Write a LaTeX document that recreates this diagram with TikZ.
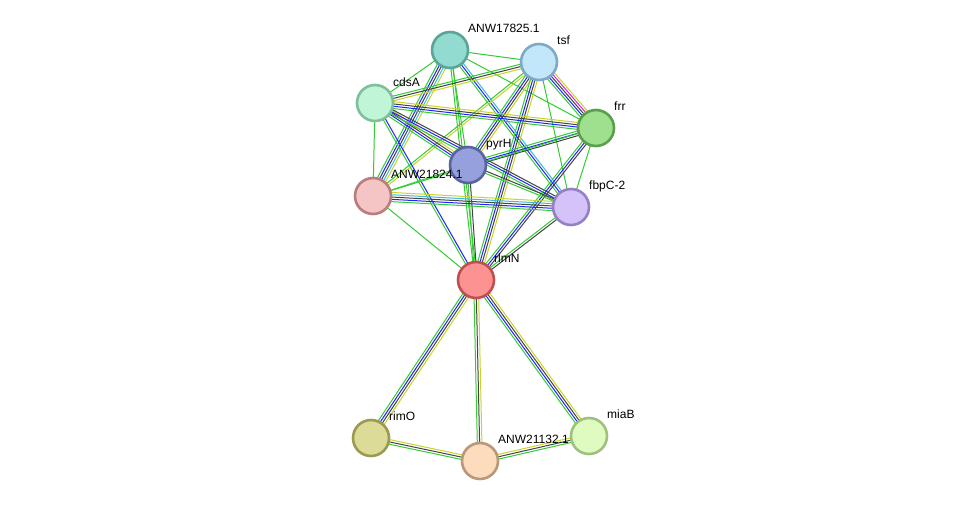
\documentclass[tikz,border=0pt]{standalone}
\usepackage{fontspec}
\setmainfont{Liberation Sans}
\usetikzlibrary{backgrounds}
\definecolor{eg}{HTML}{33CC33}
\definecolor{eb}{HTML}{2222FF}
\definecolor{ek}{HTML}{444444}
\definecolor{ey}{HTML}{C8D42A}
\definecolor{ec}{HTML}{3CB8E6}
\definecolor{em}{HTML}{D822D8}
\tikzset{
  prot/.style={circle, minimum size=36pt, inner sep=0pt, line width=2.6pt},
  lbl/.style={anchor=base west, inner sep=0pt, font=\fontsize{12}{14}\selectfont},
  edgeline/.style={line width=1.0pt},
}
\newcommand\medge[3]{%
  \pgfmathanglebetweenpoints{\pgfpointanchor{#1}{center}}{\pgfpointanchor{#2}{center}}%
  \let\eang\pgfmathresult
  \foreach \c [count=\i] in {#3} {\xdef\ncount{\i}}%
  \foreach \c [count=\i] in {#3} {%
    \pgfmathsetmacro\off{(\i-(\ncount+1)/2)*2.3}%
    \draw[\c, edgeline] ([shift={(\eang+90:\off pt)}]#1.center) -- ([shift={(\eang+90:\off pt)}]#2.center);
  }%
}
\begin{document}
\begin{tikzpicture}[x=1pt,y=-1pt]
\useasboundingbox (0,0) rectangle (976,506);
% nodes
\node[prot, draw={rgb,255:red,90;green,165;blue,150}, fill={rgb,255:red,146;green,219;blue,208}] (A) at (450,50) {};
\node[prot, draw={rgb,255:red,126;green,170;blue,197}, fill={rgb,255:red,194;green,230;blue,250}] (T) at (539,62) {};
\node[prot, draw={rgb,255:red,127;green,191;blue,154}, fill={rgb,255:red,192;green,245;blue,216}] (C) at (375,103) {};
\node[prot, draw={rgb,255:red,90;green,158;blue,78}, fill={rgb,255:red,158;green,224;blue,142}] (F) at (596,128) {};
\node[prot, draw={rgb,255:red,88;green,100;blue,160}, fill={rgb,255:red,150;green,160;blue,220}] (P) at (468,165) {};
\node[prot, draw={rgb,255:red,185;green,125;blue,125}, fill={rgb,255:red,245;green,196;blue,196}] (N) at (373,196) {};
\node[prot, draw={rgb,255:red,149;green,128;blue,197}, fill={rgb,255:red,212;green,194;blue,248}] (B) at (571,207) {};
\node[prot, draw={rgb,255:red,192;green,80;blue,80}, fill={rgb,255:red,252;green,146;blue,146}] (R) at (476,280) {};
\node[prot, draw={rgb,255:red,154;green,154;blue,80}, fill={rgb,255:red,220;green,220;blue,152}] (O) at (371,438) {};
\node[prot, draw={rgb,255:red,184;green,152;blue,122}, fill={rgb,255:red,252;green,220;blue,188}] (W) at (480,461) {};
\node[prot, draw={rgb,255:red,160;green,192;blue,128}, fill={rgb,255:red,224;green,251;blue,192}] (M) at (589,436) {};
% edges
\begin{pgfonlayer}{background}
\fill[white] (0,0) rectangle (976,506);
\medge{A}{T}{eg}
\medge{A}{C}{eg}
\medge{A}{F}{eg}
\medge{A}{N}{eg,eb,ek,ec,ey}
\medge{A}{P}{eg}
\medge{A}{R}{eg,eg}
\medge{A}{B}{eg,eb,ec}
\medge{T}{C}{eg,ek,ey}
\medge{T}{F}{eg,eb,ek,em,ey}
\medge{T}{P}{eg,eb,ek,ey}
\medge{T}{N}{eg,ey}
\medge{T}{B}{eg}
\medge{T}{R}{eg,eb,ek,ey}
\medge{C}{F}{eg,eb,ek,ey}
\medge{C}{P}{eg,eb,ek,ey}
\medge{C}{B}{eg,eb,ek}
\medge{C}{N}{eg}
\medge{C}{R}{eg,eb}
\medge{F}{P}{eg,eb,ek}
\medge{F}{N}{eg}
\medge{F}{B}{eg}
\medge{F}{R}{eg,eb,ek}
\medge{P}{N}{eg}
\medge{P}{B}{eg,ek}
\medge{P}{R}{eg,ek}
\medge{N}{B}{eg,eb,ek,ec,ey}
\medge{N}{R}{eg}
\medge{B}{R}{eg,ek}
\medge{R}{O}{eg,eb,ek,ey}
\medge{R}{W}{eg,ek,ey}
\medge{R}{M}{eg,eb,ek,ey}
\medge{O}{W}{eg,ek,ey}
\medge{W}{M}{eg,ek,ey}
\end{pgfonlayer}
% labels
\node[lbl] (lA) at (468,32) {ANW17825.1};
\node[lbl] (lT) at (557,44) {tsf};
\node[lbl] (lC) at (393,86) {cdsA};
\node[lbl] (lF) at (614,110) {frr};
\node[lbl] (lP) at (486,147) {pyrH};
\node[lbl] (lN) at (391,178) {ANW21824.1};
\node[lbl] (lB) at (589,189) {fbpC-2};
\node[lbl] (lR) at (494,262) {rlmN};
\node[lbl] (lO) at (389,420) {rimO};
\node[lbl] (lW) at (498,443) {ANW21132.1};
\node[lbl] (lM) at (607,418) {miaB};
\end{tikzpicture}
\end{document}
